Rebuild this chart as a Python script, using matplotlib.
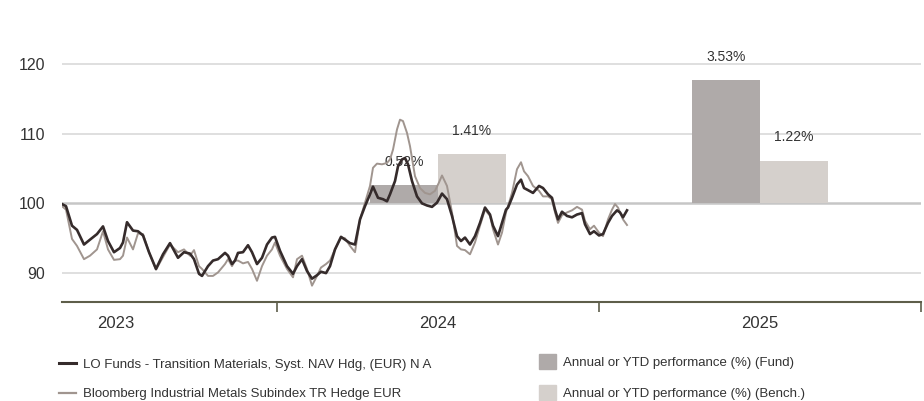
import numpy as np
import matplotlib.pyplot as plt
from matplotlib.lines import Line2D
from matplotlib.patches import Patch

plt.rcParams['font.family'] = ['Liberation Sans', 'DejaVu Sans']

# yearly performance bars (drawn from base 100, height = perf * bar_scale)
years = ["2023", "2024", "2025"]
fund_perf = [np.nan, 0.52, 3.53]
bench_perf = [np.nan, 1.41, 1.22]
bar_scale = 5.0

# rebased NAV history (time offset, value)
fund_t = [0, 4, 10, 15, 22, 28, 35, 41, 46, 52, 58, 61, 65, 71, 76, 81, 87, 94, 101, 108, 116, 122, 128, 132, 137, 140,
          146, 151, 156, 163, 166, 170, 173, 176, 181, 186, 190, 195, 200, 205, 210, 213, 218, 225, 231, 235, 240, 245,
          250, 255, 259, 264, 268, 273, 279,
          283, 288, 293, 298, 303, 308, 311, 316, 321, 325, 328, 333, 336, 340, 343, 346, 350, 355, 360, 365, 370, 375,
          380, 385, 390, 395, 399, 403, 408, 413, 418,
          423, 428, 431, 436, 440, 444, 446, 450, 455, 459, 462, 466, 471, 477, 481, 486, 490, 493, 496, 500, 505, 510,
          515, 520, 523, 528, 532, 537, 541, 546, 550, 555, 558, 561, 565]
fund_val = [99.9, 99.6, 96.8, 96.2, 94.1, 94.8, 95.6, 96.7, 94.6, 93.0, 93.6, 94.4, 97.3, 96.1, 96.0, 95.4, 93.0, 90.6,
            92.7, 94.3, 92.2, 93.0, 92.8, 92.0, 89.9, 89.6,
            91.0, 91.8, 92.0, 92.9, 92.5, 91.3, 91.8, 92.9, 93.0, 94.0, 93.0, 91.3, 92.2, 94.1, 95.1, 95.2, 93.2, 91.0,
            89.9, 91.0, 92.0, 90.3, 89.2, 89.7, 90.2, 90.0, 91.0, 93.4, 95.2,
            94.8, 94.3, 94.1, 97.7, 99.6, 101.3, 102.4, 100.8, 100.6, 100.3, 101.3, 103.2, 105.3, 106.3, 106.5, 105.6,
            103.2, 101.0, 100.0, 99.7, 99.5, 100.1, 101.4, 100.6, 98.2, 95.3, 94.6, 95.1, 94.1, 95.3, 97.2,
            99.4, 98.4, 96.8, 95.3, 97.2, 99.1, 99.4, 100.8, 102.7, 103.4, 102.2, 101.9, 101.5, 102.5, 102.2, 101.3,
            100.8, 99.1, 97.7, 98.8, 98.2, 98.0, 98.4, 98.6, 97.0, 95.6, 96.0, 95.4, 95.6, 97.2, 98.2, 99.0, 98.7,
            98.0, 99.0]

bench_t = [0, 4, 10, 15, 22, 28, 35, 41, 46, 52, 58, 61, 65, 71, 76, 81, 87, 94, 101, 108, 116, 122, 128, 132, 137, 140,
           146, 151, 156, 163, 166, 170, 173, 176, 181, 186, 190, 195, 200, 205, 210, 213, 218, 225, 231, 235, 240, 245,
           250, 255, 259, 264, 268, 273, 279,
           283, 288, 293, 298, 303, 308, 311, 315, 320, 325, 328, 331, 335, 338, 341, 345, 348, 353, 358, 363, 368, 373,
           377, 380, 385, 390, 395, 399, 403, 408, 413, 418,
           423, 428, 431, 436, 440, 444, 446, 450, 455, 459, 462, 466, 471, 477, 481, 486, 490, 493, 496, 500, 505, 510,
           515, 520, 523, 528, 532, 537, 541, 546, 550, 553, 556, 561, 565]
bench_val = [99.6, 99.1, 94.9, 93.9, 92.0, 92.5, 93.4, 96.0, 93.4, 91.9, 92.0, 92.5, 95.1, 93.4, 95.7, 95.6, 93.0, 90.5,
             92.3, 94.1, 93.0, 93.4, 92.5, 93.3, 91.0, 90.6,
             89.6, 89.6, 90.1, 91.3, 92.0, 91.0, 91.8, 91.8, 91.4, 91.6, 90.6, 88.9, 91.0, 92.5, 93.4, 94.4, 92.5, 90.6,
             89.4, 92.0, 92.5, 90.6, 88.2, 89.6, 90.8, 91.3, 91.8, 93.4, 95.1,
             95.0, 93.9, 93.0, 97.7, 100.1, 102.5, 105.1, 105.7, 105.6, 105.8, 106.3, 107.7, 110.6, 112.0, 111.8, 110.1,
             108.2, 103.9, 102.2, 101.5, 101.3, 101.8, 103.0, 104.0, 102.5, 98.7, 93.9, 93.4, 93.3, 92.7, 94.4, 96.8,
             99.1, 98.2, 96.3, 94.1, 95.8, 98.7, 99.6, 101.5, 104.9, 105.9, 104.6, 103.9, 102.5, 101.8, 101.0, 101.0,
             100.6, 98.7, 97.2, 98.3, 98.7, 99.0, 99.5, 99.1, 97.5, 96.3, 96.8, 95.8, 95.3, 97.7, 99.1, 99.9, 99.4,
             97.7, 96.9]

fund_line_col = "#352b2b"
bench_line_col = "#a0958f"
fund_bar_col = "#afaaa9"
bench_bar_col = "#d5d0cc"
text_col = "#333333"

fig = plt.figure(figsize=(9.24, 4.01), dpi=100)
ax = fig.add_axes([62 / 924, 99 / 401, 859 / 924, 273 / 401])

ax.set_ylim(85.86, 125)
ax.set_xlim(-0.168, 2.5)

for yv in [90, 110, 120]:
    ax.axhline(yv, color="#dcdcdc", lw=1.3, zorder=0)
ax.axhline(100, color="#c6c6c6", lw=1.8, zorder=0)

x = np.arange(len(years))
w = 0.211
fund_h = np.array(fund_perf) * bar_scale
bench_h = np.array(bench_perf) * bar_scale
ax.bar(x - w / 2, fund_h, w, bottom=100, color=fund_bar_col, zorder=1)
ax.bar(x + w / 2, bench_h, w, bottom=100, color=bench_bar_col, zorder=1)
for i in range(len(years)):
    if not np.isnan(fund_perf[i]):
        ax.annotate("{:.2f}%".format(fund_perf[i]), (x[i] - w / 2, 100 + fund_h[i]), xytext=(0, 12),
                    textcoords="offset points", ha="center", va="bottom", fontsize=10, color=text_col)
    if not np.isnan(bench_perf[i]):
        ax.annotate("{:.2f}%".format(bench_perf[i]), (x[i] + w / 2, 100 + bench_h[i]), xytext=(0, 12),
                    textcoords="offset points", ha="center", va="bottom", fontsize=10, color=text_col)

ax.set_yticks([90, 100, 110, 120])
ax.tick_params(axis="y", length=0, pad=12, labelsize=11.5, labelcolor=text_col)
ax.set_xticks(x)
ax.set_xticklabels(years)
ax.set_xticks([0.5, 1.5, 2.5], minor=True)
ax.tick_params(axis="x", which="major", length=0, pad=10, labelsize=12, labelcolor=text_col)
ax.tick_params(axis="x", which="minor", length=7, width=1.2, color="#5e5e4a")
for s in ["top", "right", "left"]:
    ax.spines[s].set_visible(False)
ax.spines["bottom"].set_color("#5e5e4a")
ax.spines["bottom"].set_linewidth(1.5)

# lines live on their own time axis
ax2 = ax.twiny()
ax2.set_xlim(0, 859)
ax2.set_ylim(ax.get_ylim())
ax2.axis("off")
ax2.plot(bench_t, bench_val, color=bench_line_col, lw=1.4, zorder=3)
ax2.plot(fund_t, fund_val, color=fund_line_col, lw=1.9, zorder=4)

h1 = [Line2D([], [], color=fund_line_col, lw=2.2), Line2D([], [], color=bench_line_col, lw=1.6)]
l1 = ["LO Funds - Transition Materials, Syst. NAV Hdg, (EUR) N A", "Bloomberg Industrial Metals Subindex TR Hedge EUR"]
leg1 = fig.legend(h1, l1, loc="upper left", bbox_to_anchor=(47 / 924, 1 - 347 / 401), frameon=False,
                  fontsize=9.5, handlelength=1.3, handletextpad=0.55, labelspacing=1.3, labelcolor=text_col)
h2 = [Patch(color=fund_bar_col), Patch(color=bench_bar_col)]
l2 = ["Annual or YTD performance (%) (Fund)", "Annual or YTD performance (%) (Bench.)"]
leg2 = fig.legend(h2, l2, loc="upper left", bbox_to_anchor=(527 / 924, 1 - 342 / 401), frameon=False,
                  fontsize=9.5, handlelength=1.3, handleheight=1.35, handletextpad=0.5, labelspacing=1.25,
                  labelcolor=text_col)

fig.savefig("out.png", dpi=100)
